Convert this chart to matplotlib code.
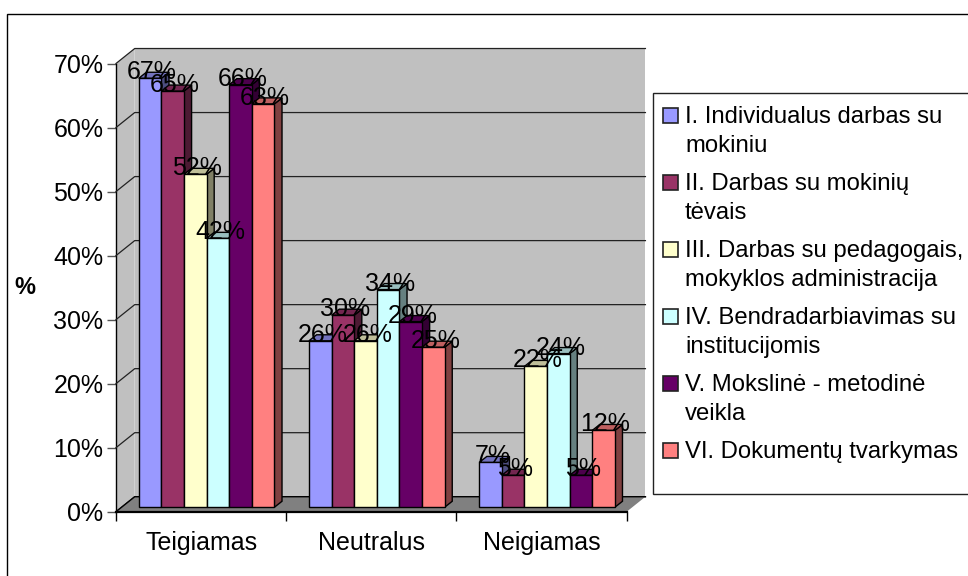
import matplotlib
matplotlib.use("Agg")
import matplotlib.pyplot as plt
from matplotlib.patches import Polygon, Rectangle

plt.rcParams['font.family'] = ['Liberation Sans', 'DejaVu Sans']
plt.rcParams['font.size'] = 18

categories = ['Teigiamas', 'Neutralus', 'Neigiamas']
series_names = ['I. Individualus darbas su\nmokiniu',
                'II. Darbas su mokinių\ntėvais',
                'III. Darbas su pedagogais,\nmokyklos administracija',
                'IV. Bendradarbiavimas su\ninstitucijomis',
                'V. Mokslinė - metodinė\nveikla',
                'VI. Dokumentų tvarkymas']
series_1 = [67, 26, 7]
series_2 = [65, 30, 5]
series_3 = [52, 26, 22]
series_4 = [42, 34, 24]
series_5 = [66, 29, 5]
series_6 = [63, 25, 12]
all_series = [series_1, series_2, series_3, series_4, series_5, series_6]
y_ticks = [0, 10, 20, 30, 40, 50, 60, 70]

face = ['#9999FF', '#993366', '#FFFFCC', '#CCFFFF', '#660066', '#FF8080']
top = ['#7373BF', '#732650', '#BFBF99', '#99BFBF', '#4D004D', '#BF6060']
side = ['#4D4D80', '#4D1A33', '#808066', '#668080', '#330033', '#804040']

W, H = 968, 576
fig = plt.figure(figsize=(W / 100, H / 100), dpi=100)
ax = fig.add_axes([116 / W, (H - 511.7) / H, 510.7 / W, 448.2 / H])
ax.set_xlim(0, 3)
ax.set_ylim(0, 70)

# depth of the box and of the bars, in data units
wall_dx, wall_dy = 0.11, 2.34
bar_dx, bar_dy = 0.045, 0.94
bar_w = 0.1328
bar_start = 0.1334
base = 0.69


def pg(pts, color, z, lw=1.0, edge='black'):
    ax.add_patch(Polygon(pts, closed=True, facecolor=color, edgecolor=edge, lw=lw, zorder=z, clip_on=False))


# walls and floor
pg([(0, 0), (wall_dx, wall_dy), (wall_dx, 70 + wall_dy), (0, 70)], '#C0C0C0', 1, edge='none')
pg([(wall_dx, wall_dy), (3 + wall_dx, wall_dy), (3 + wall_dx, 70 + wall_dy), (wall_dx, 70 + wall_dy)], '#C0C0C0', 1, edge='none')
ax.plot([0, 0], [0, 70], color='black', lw=1.0, zorder=2, clip_on=False)
for t in y_ticks:
    ax.plot([0, wall_dx, 3 + wall_dx], [t, t + wall_dy, t + wall_dy], color='#222222', lw=0.9, zorder=2, clip_on=False)
pg([(0, 0), (3, 0), (3 + wall_dx, wall_dy), (wall_dx, wall_dy)], '#808080', 3, edge='none')
ax.plot([0, wall_dx, 3 + wall_dx], [0, wall_dy, wall_dy], color='black', lw=1.0, zorder=3, clip_on=False)

# bars, later ones cover the sides of earlier ones
z = 4
for g in range(len(categories)):
    for s, vals in enumerate(all_series):
        x0 = g + bar_start + s * bar_w
        x1 = x0 + bar_w
        y1 = vals[g] + base
        pg([(x1, base), (x1 + bar_dx, base + bar_dy), (x1 + bar_dx, y1 + bar_dy), (x1, y1)], side[s], z)
        pg([(x0, y1), (x1, y1), (x1 + bar_dx, y1 + bar_dy), (x0 + bar_dx, y1 + bar_dy)], top[s], z)
        ax.bar(x0, vals[g], bar_w, bottom=base, align='edge', color=face[s], edgecolor='black', lw=1.0, zorder=z + 0.5)
        z += 1

for g in range(len(categories)):
    for s, vals in enumerate(all_series):
        ax.text(g + bar_start + s * bar_w + bar_w / 2 + 0.012, vals[g] + base + bar_dy, '%d%%' % vals[g],
                ha='center', va='center', color='black', zorder=100, clip_on=False)

for name in ['top', 'right', 'left']:
    ax.spines[name].set_visible(False)
ax.spines['bottom'].set_linewidth(1.6)
ax.spines['bottom'].set_zorder(90)
ax.set_facecolor('none')

ax.set_yticks(y_ticks)
ax.set_yticklabels(['%d%%' % t for t in y_ticks])
ax.set_xticks([0, 1, 2, 3])
ax.set_xticklabels([])
ax.set_xticks([0.5, 1.5, 2.5], categories, minor=True)
ax.tick_params(axis='y', length=6.5, width=1, color='#555555', pad=2.5)
ax.tick_params(axis='x', which='major', length=6.5, width=1)
ax.tick_params(axis='x', which='minor', length=0, pad=14)


def fx(px):
    return px / W


def fy(px):
    return 1 - px / H


# chart border runs off the right and bottom of the picture
fig.add_artist(Rectangle((fx(7), fy(590)), fx(980), fy(14) - fy(590), transform=fig.transFigure,
                         facecolor='none', edgecolor='black', lw=1.0, zorder=-1))
fig.text(fx(25), fy(288), '%', fontweight='bold', ha='center', va='center', fontsize=17)

fig.add_artist(Rectangle((fx(653), fy(494)), fx(330), fy(93) - fy(494), transform=fig.transFigure,
                         facecolor='white', edgecolor='#222222', lw=1.0))
y = 122.7
for s, name in enumerate(series_names):
    fig.add_artist(Rectangle((fx(663), fy(y)), fx(15), fy(y - 15) - fy(y), transform=fig.transFigure,
                             facecolor=face[s], edgecolor='#222222', lw=1.2))
    for i, line in enumerate(name.split('\n')):
        fig.text(fx(685), fy(y + 29.5 * i), line, ha='left', va='baseline', fontsize=17.2)
    y += 67

fig.savefig('out.png', dpi=100)
